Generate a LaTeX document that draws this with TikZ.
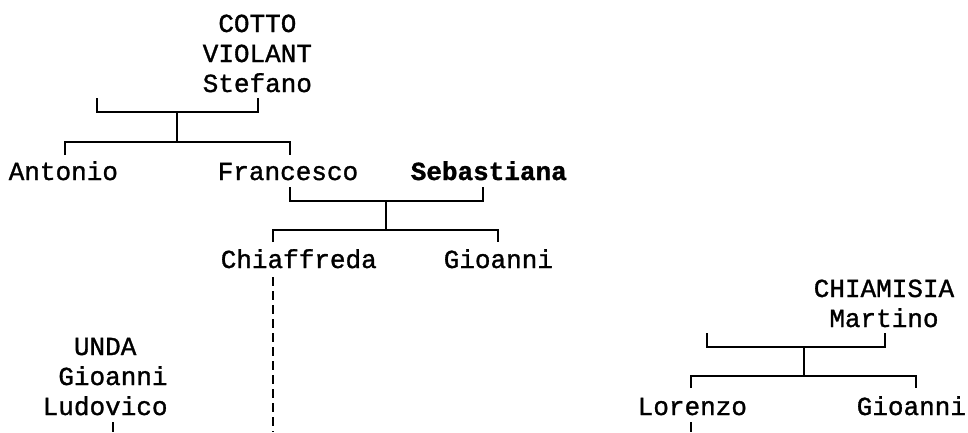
\documentclass[tikz,border=0pt]{standalone}
\usepackage{fontspec}
\setmonofont{Liberation Mono}[FakeBold=1.2]
\begin{document}
\begin{tikzpicture}[x=1pt,y=-1pt,line width=1.5pt]
        \useasboundingbox (0,0) rectangle (968,432);

        \begin{scope}[every node/.style={inner sep=0pt, anchor=base west, align=left,
            font=\ttfamily\fontsize{26}{30}\selectfont}]
          \node (cotto)      at (202,92)  {~COTTO\\VIOLANT\\Stefano};
          \node (antonio)    at (8,180)   {Antonio};
          \node (francesco)  at (217,180) {Francesco};
          \node (sebastiana) at (410,180) {\bfseries Sebastiana};
          \node (chiaffreda) at (220,268) {Chiaffreda};
          \node (gioanni1)   at (443,268) {Gioanni};
          \node (unda)       at (42,415)  {~~UNDA\\~Gioanni\\Ludovico};
          \node (chiamisia)  at (813,327) {CHIAMISIA\\~Martino};
          \node (lorenzo)    at (637,415) {Lorenzo};
          \node (gioanni2)   at (856,415) {Gioanni};
        \end{scope}

        % junctions
        \coordinate (c1l) at (97,98);   \coordinate (c1r) at (258,98);
        \coordinate (c1m) at (177,112); \coordinate (c1k) at (177,142);
        \coordinate (k1l) at (65,155);  \coordinate (k1r) at (290,155);
        \coordinate (c2l) at (290,187); \coordinate (c2r) at (483,187);
        \coordinate (c2m) at (386,201); \coordinate (c2k) at (386,230);
        \coordinate (k2l) at (273,242); \coordinate (k2r) at (498,242);
        \coordinate (c3l) at (707,333); \coordinate (c3r) at (885,333);
        \coordinate (c3m) at (804,347); \coordinate (c3k) at (804,376);
        \coordinate (k3l) at (691,388); \coordinate (k3r) at (916,388);
        \coordinate (d1)  at (273,277); \coordinate (e1)  at (273,432);
        \coordinate (d2)  at (113,422); \coordinate (e2)  at (113,432);
        \coordinate (d3)  at (691,422); \coordinate (e3)  at (691,432);

        \draw (c1l) |- (c1m) -| (c1r);
        \draw (c1m) -- (c1k);
        \draw (k1l) |- (c1k) -| (k1r);
        \draw (c2l) |- (c2m) -| (c2r);
        \draw (c2m) -- (c2k);
        \draw (k2l) |- (c2k) -| (k2r);
        \draw (c3l) |- (c3m) -| (c3r);
        \draw (c3m) -- (c3k);
        \draw (k3l) |- (c3k) -| (k3r);

        \draw[dash pattern=on 9pt off 5pt] (d1) -- (e1);
        \draw (d2) -- (e2);
        \draw (d3) -- (e3);

      \end{tikzpicture}
\end{document}
